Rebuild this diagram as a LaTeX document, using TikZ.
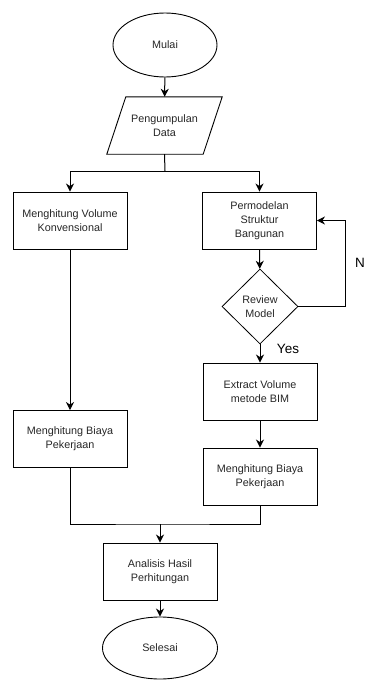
\documentclass[tikz,border=0pt]{standalone}
\usepackage{fontspec}
\setmainfont{Liberation Sans}
\usetikzlibrary{shapes.geometric,arrows.meta}
\begin{document}
\begin{tikzpicture}[x=1pt,y=-1pt,
  every node/.style={font=\fontsize{10.8}{14}\selectfont, text=black!85, align=center, inner sep=0pt},
  procbox/.style={draw, line width=0.9pt, rectangle, minimum width=114pt, minimum height=57pt},
  term/.style={draw, line width=0.9pt, ellipse, minimum width=104pt, minimum height=64pt},
  iotext/.style={rectangle, minimum width=96pt, minimum height=57pt},
  decision/.style={draw, line width=0.8pt, diamond, minimum width=76pt, minimum height=75pt},
  conn/.style={draw, line width=1pt, -{Stealth[length=8pt,width=8pt,inset=2.5pt]}},
  plain/.style={draw, line width=1pt},
  lbl/.style={font=\fontsize{13.5}{16}\selectfont, text=black}
]
\useasboundingbox (0,0) rectangle (365,680);
\node[term] (mulai) at (165,45) {Mulai};
\node[iotext] (data) at (164.5,125.5) {Pengumpulan\\Data};
\draw[line width=0.9pt] ([xshift=-9.5pt]data.south west) -- ([xshift=-9.5pt]data.south east)
  -- ([xshift=9.5pt]data.north east) -- ([xshift=9.5pt]data.north west) -- cycle;
\node[procbox] (vk) at (70,220.5) {Menghitung Volume\\Konvensional};
\node[procbox] (ps) at (259.5,220.5) {Permodelan\\Struktur\\Bangunan};
\node[decision] (rm) at (260,306.5) {Review\\Model};
\node[procbox] (ev) at (260,391.5) {Extract Volume\\metode BIM};
\node[procbox] (bl) at (70,439) {Menghitung Biaya\\Pekerjaan};
\node[procbox] (br) at (260,476.5) {Menghitung Biaya\\Pekerjaan};
\node[procbox] (ah) at (160,571.5) {Analisis Hasil\\Perhitungan};
\node[term, minimum width=115pt, minimum height=62pt] (sel) at (160,648) {Selesai};
\node[lbl] (nlbl) at (360,263) {N};
\node[lbl] (ylbl) at (288,349) {Yes};
\coordinate (split) at (165,171);
\coordinate (merge) at (160,524);

\draw[conn] (mulai) -- (data);
\draw[plain] (data.south) -- (split);
\draw[conn] (split) -| (vk.north);
\draw[conn] (split) -| (ps.north);
\draw[conn] (ps) -- (rm);
\draw[conn] (rm.east) -- ++(47,0) |- (ps.east);
\draw[conn] (rm) -- (ev);
\draw[conn] (ev) -- (br);
\draw[conn] (vk) -- (bl);
\draw[plain] (bl.south) |- (merge) -| (br.south);
\draw[conn] (merge) -- (ah);
\draw[conn] (ah) -- (sel);
\end{tikzpicture}
\end{document}
